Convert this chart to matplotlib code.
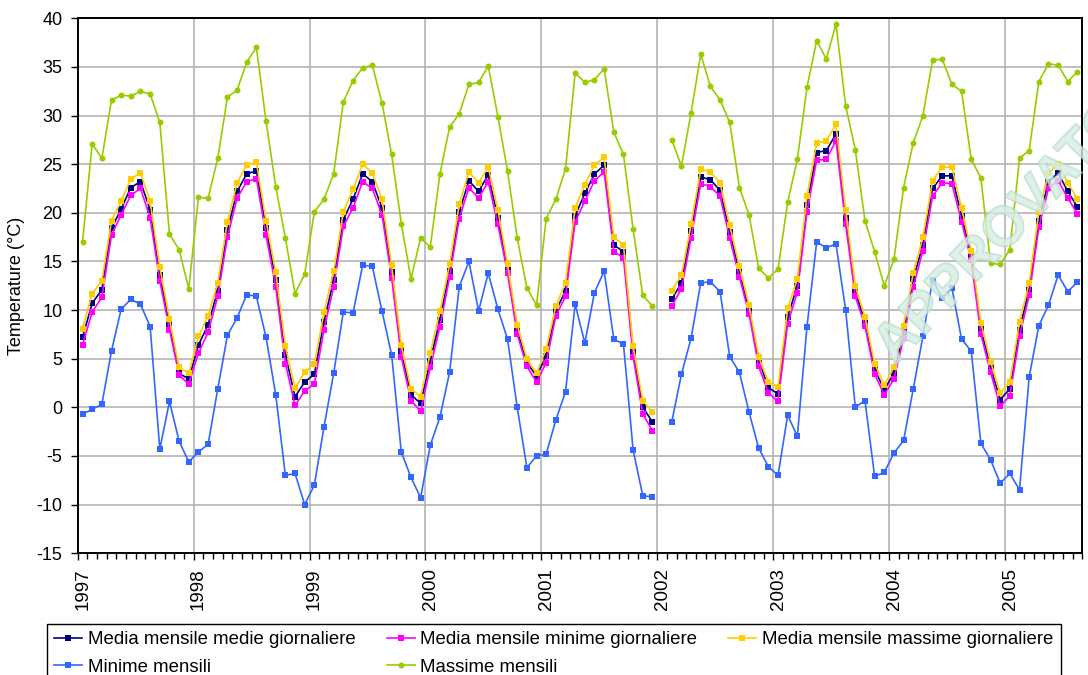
import numpy as np
import matplotlib
matplotlib.use("Agg")
import matplotlib.pyplot as plt
import matplotlib.patheffects as pe
import matplotlib.transforms as mtransforms
from matplotlib.ticker import MultipleLocator

plt.rcParams['font.family'] = ['Liberation Sans', 'DejaVu Sans']
plt.rcParams['axes.unicode_minus'] = False

nan = np.nan

# monthly series, Jan 1997 - Aug 2005 (Jan 2002 missing)
start_year = 1997
year_ticks = list(range(1997, 2006))

media_medie = [
    7.2, 10.7, 12.1, 18.4, 20.4, 22.6, 23.2, 20.3, 13.6, 8.6, 3.5, 2.9,
    6.4, 8.5, 12.0, 18.2, 22.2, 24.0, 24.3, 18.4, 13.1, 5.4, 1.1, 2.6,
    3.4, 8.8, 13.1, 19.3, 21.4, 24.0, 23.2, 20.5, 13.9, 5.8, 1.3, 0.4,
    4.8, 9.0, 14.0, 20.1, 23.3, 22.2, 23.9, 19.5, 14.2, 7.9, 4.6, 3.2,
    5.3, 9.9, 12.0, 19.7, 22.0, 24.0, 24.9, 16.7, 16.0, 5.8, 0.0, -1.5,
    nan, 11.1, 12.8, 18.1, 23.7, 23.4, 22.3, 18.0, 13.9, 10.1, 4.9, 2.0,
    1.4, 9.3, 12.5, 20.8, 26.2, 26.4, 28.1, 19.5, 11.9, 8.8, 3.9, 1.8,
    3.5, 7.7, 13.2, 16.7, 22.5, 23.8, 23.8, 19.7, 15.6, 8.1, 4.1, 0.8,
    1.9, 8.0, 12.1, 19.2, 23.2, 24.1, 22.2, 20.6,
]
media_minime = [
    6.4, 9.8, 11.3, 17.7, 19.8, 21.8, 22.5, 19.5, 13.0, 8.0, 3.3, 2.4,
    5.6, 7.7, 11.4, 17.5, 21.5, 23.2, 23.5, 17.7, 12.4, 4.5, 0.2, 1.7,
    2.4, 8.0, 12.4, 18.6, 20.5, 23.2, 22.5, 19.8, 13.3, 5.2, 0.7, -0.4,
    4.1, 8.3, 13.4, 19.4, 22.6, 21.5, 23.2, 18.8, 13.8, 7.5, 4.2, 2.6,
    4.6, 9.4, 11.4, 19.1, 21.2, 23.3, 24.2, 16.0, 15.4, 5.2, -0.7, -2.4,
    nan, 10.4, 12.2, 17.4, 23.0, 22.7, 21.7, 17.4, 13.4, 9.6, 4.2, 1.5,
    0.6, 8.6, 11.8, 20.1, 25.4, 25.5, 27.4, 18.8, 11.4, 8.4, 3.4, 1.3,
    2.9, 7.1, 12.4, 16.1, 21.7, 23.1, 23.0, 19.1, 15.1, 7.5, 3.6, 0.1,
    1.2, 7.3, 11.5, 18.5, 22.5, 23.3, 21.5, 19.9,
]
media_massime = [
    8.1, 11.7, 13.0, 19.2, 21.2, 23.5, 24.1, 21.2, 14.4, 9.1, 4.1, 3.5,
    7.3, 9.4, 12.8, 19.1, 23.1, 24.9, 25.2, 19.2, 13.9, 6.3, 2.0, 3.6,
    4.5, 9.8, 14.0, 20.1, 22.4, 25.0, 24.1, 21.4, 14.6, 6.4, 1.9, 1.1,
    5.6, 9.9, 14.7, 20.9, 24.2, 23.1, 24.7, 20.3, 14.7, 8.5, 5.0, 3.5,
    6.0, 10.4, 12.8, 20.5, 22.9, 24.9, 25.7, 17.5, 16.7, 6.3, 0.7, -0.5,
    nan, 12.0, 13.6, 18.8, 24.5, 24.2, 23.1, 18.7, 14.5, 10.5, 5.2, 2.6,
    2.1, 10.2, 13.2, 21.7, 27.2, 27.4, 29.1, 20.3, 12.5, 9.3, 4.5, 2.3,
    4.1, 8.4, 13.8, 17.5, 23.3, 24.7, 24.7, 20.5, 16.1, 8.7, 4.7, 1.5,
    2.6, 8.8, 12.8, 20.1, 24.1, 25.0, 23.1, 21.4,
]
minime_mensili = [
    -0.7, -0.2, 0.3, 5.8, 10.1, 11.1, 10.6, 8.3, -4.3, 0.6, -3.5, -5.6,
    -4.6, -3.8, 1.9, 7.4, 9.2, 11.6, 11.4, 7.2, 1.3, -7.0, -6.8, -10.0,
    -8.0, -2.0, 3.5, 9.8, 9.7, 14.6, 14.5, 9.9, 5.4, -4.6, -7.2, -9.3,
    -3.9, -1.0, 3.6, 12.4, 15.0, 9.9, 13.8, 10.1, 7.0, 0.0, -6.2, -5.0,
    -4.8, -1.3, 1.6, 10.6, 6.6, 11.8, 14.0, 7.0, 6.5, -4.4, -9.1, -9.2,
    nan, -1.5, 3.4, 7.1, 12.8, 12.9, 11.9, 5.2, 3.6, -0.5, -4.2, -6.1,
    -7.0, -0.8, -3.0, 8.3, 17.0, 16.4, 16.8, 10.0, 0.0, 0.7, -7.1, -6.7,
    -4.7, -3.4, 1.9, 7.3, 13.1, 11.2, 12.3, 7.0, 5.8, -3.7, -5.4, -7.8,
    -6.8, -8.5, 3.1, 8.4, 10.5, 13.6, 11.9, 12.9,
]
massime_mensili = [
    17.0, 27.1, 25.6, 31.6, 32.1, 32.0, 32.5, 32.2, 29.3, 17.8, 16.2, 12.2,
    21.6, 21.5, 25.6, 31.9, 32.6, 35.5, 37.0, 29.4, 22.7, 17.4, 11.7, 13.7,
    20.1, 21.4, 24.0, 31.4, 33.6, 34.9, 35.2, 31.3, 26.0, 18.9, 13.2, 17.4,
    16.5, 24.0, 28.8, 30.2, 33.2, 33.4, 35.1, 29.9, 24.3, 17.4, 12.3, 10.5,
    19.4, 21.4, 24.5, 34.4, 33.4, 33.7, 34.8, 28.3, 26.0, 18.3, 11.5, 10.4,
    nan, 27.5, 24.8, 30.3, 36.3, 33.0, 31.6, 29.3, 22.6, 19.8, 14.3, 13.3,
    14.2, 21.1, 25.5, 32.9, 37.7, 35.8, 39.4, 31.0, 26.5, 19.2, 16.0, 12.5,
    15.2, 22.6, 27.2, 30.0, 35.7, 35.8, 33.2, 32.5, 25.5, 23.6, 14.8, 14.7,
    16.2, 25.6, 26.4, 33.5, 35.3, 35.2, 33.5, 34.5,
]

labels = [
    "Media mensile medie giornaliere",
    "Media mensile minime giornaliere",
    "Media mensile massime giornaliere",
    "Minime mensili",
    "Massime mensili",
]
colors = ["#000080", "#FF00FF", "#FFCC00", "#3366FF", "#99CC00"]
markers = ["s", "s", "s", "s", "o"]

series = [media_medie, media_minime, media_massime, minime_mensili, massime_mensili]
n_months = len(media_medie)
# each value sits in the middle of its month
x = start_year + (np.arange(n_months) + 0.5) / 12

fig = plt.figure(figsize=(10.88, 6.75), dpi=100)
ax = fig.add_axes([77.7 / 1088, 1 - 553.2 / 675, (1082.3 - 77.7) / 1088, (553.2 - 18.3) / 675])

handles = []
for vals, lab, col, mk in zip(series, labels, colors, markers):
    ms = 4.6 if mk == "s" else 4.3
    h, = ax.plot(x, vals, color=col, marker=mk, markersize=ms, linewidth=1.2,
                 markeredgewidth=0, label=lab, clip_on=False)
    handles.append(h)

ax.set_xlim(start_year, start_year + n_months / 12)
ax.set_ylim(-15, 40)
ax.yaxis.set_major_locator(MultipleLocator(5))
ax.set_xticks(year_ticks)
ax.set_xticklabels([str(y) for y in year_ticks], rotation=90, fontsize=13.5)
ax.xaxis.set_minor_locator(MultipleLocator(1 / 12))
ax.tick_params(axis="x", which="major", direction="out", length=5, width=1, pad=6)
ax.tick_params(axis="x", which="minor", direction="out", length=4, width=1)
ax.tick_params(axis="y", direction="out", length=5, width=1, pad=6, labelsize=13)

# year labels sit just right of their tick
shift = mtransforms.ScaledTranslation(5 / 100, 0, fig.dpi_scale_trans)
for lbl in ax.get_xticklabels():
    lbl.set_transform(lbl.get_transform() + shift)

ax.grid(True, which="major", color="#b4b4b4", linewidth=1.2)
ax.set_axisbelow(True)
for sp in ax.spines.values():
    sp.set_color("black")
    sp.set_linewidth(1.4)

ax.set_ylabel("Temperature (°C)", fontsize=13)
ax.yaxis.set_label_coords(-0.0525, 0.5)

# legend laid out row by row: three entries on top, two below
order = [0, 3, 1, 4, 2]
leg = fig.legend([handles[i] for i in order], [labels[i] for i in order],
                 loc="upper left", bbox_to_anchor=(47 / 1088, 1 - 624 / 675),
                 ncol=3, fontsize=13.4, frameon=True, fancybox=False,
                 edgecolor="black", framealpha=1, handlelength=1.5,
                 handletextpad=0.3, columnspacing=1.67, labelspacing=0.55,
                 borderpad=0.4, borderaxespad=0)
leg.get_frame().set_linewidth(1.0)

# approval stamp across the upper right
fig.text(895 / 1088, 1 - 366 / 675, "APPROVATO", rotation=46, rotation_mode="anchor",
         ha="left", va="baseline", fontsize=40, fontweight="bold",
         color="#d6ede2", alpha=0.55, zorder=10,
         path_effects=[pe.withStroke(linewidth=1.5, foreground="#a3d2bc")])

fig.savefig("out.png", dpi=100)
